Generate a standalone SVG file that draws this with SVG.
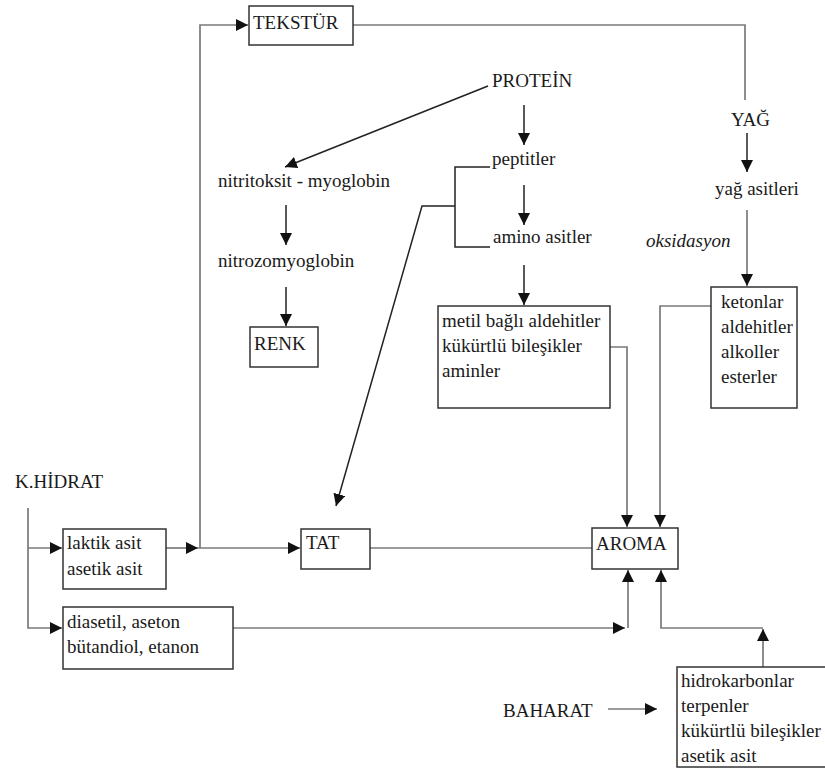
<svg xmlns="http://www.w3.org/2000/svg" width="825" height="772" viewBox="0 0 825 772">
<style>
text{font-family:"Liberation Serif","Times New Roman",serif;font-size:19px;fill:#1a1a1a}
.it{font-style:italic}
.box{fill:#fff;stroke:#333;stroke-width:1.5}
.g{fill:none;stroke:#7a7a7a;stroke-width:1.7}
.k{fill:none;stroke:#222;stroke-width:1.5}
</style>
<defs>
<marker id="ah" markerUnits="userSpaceOnUse" markerWidth="12" markerHeight="12" viewBox="0 0 10 10" refX="10" refY="5" orient="auto">
<path d="M0,0 L10,5 L0,10 z" fill="#111"/>
</marker>
</defs>
<rect width="825" height="772" fill="#fff"/>
<g id="connectors">
<path class="g" d="M353,25 H745 V100"/>
<path class="k" d="M747,133 V172" marker-end="url(#ah)"/>
<path class="g" d="M747,210 V286" marker-end="url(#ah)"/>
<path class="g" d="M711,306 H660 V527" marker-end="url(#ah)"/>
<path class="g" d="M610,347 H627 V527" marker-end="url(#ah)"/>
<path class="k" d="M524,105 V145" marker-end="url(#ah)"/>
<path class="k" d="M524,185 V225" marker-end="url(#ah)"/>
<path class="k" d="M524,265 V305" marker-end="url(#ah)"/>
<path class="k" d="M488,86 L285,167" marker-end="url(#ah)"/>
<path class="k" d="M286,205 V245" marker-end="url(#ah)"/>
<path class="k" d="M286,287 V326" marker-end="url(#ah)"/>
<path class="k" d="M490,167 H455 V247 H490"/>
<path class="k" d="M455,206 H422 L336,506" marker-end="url(#ah)"/>
<path class="g" d="M28,508 V628 H62" marker-end="url(#ah)"/>
<path class="g" d="M28,548 H62" marker-end="url(#ah)"/>
<path class="g" d="M166,548 H198" marker-end="url(#ah)"/>
<path class="g" d="M198,548 H300" marker-end="url(#ah)"/>
<path class="g" d="M200,548 V25 H248" marker-end="url(#ah)"/>
<path class="g" d="M370,548 H592"/>
<path class="g" d="M233,628 H625" marker-end="url(#ah)"/>
<path class="g" d="M628,628 V570" marker-end="url(#ah)"/>
<path class="g" d="M763,667 V629" marker-end="url(#ah)"/>
<path class="g" d="M763,628 H661 V570" marker-end="url(#ah)"/>
<path class="g" d="M608,709 H657" marker-end="url(#ah)"/>
</g>
<g id="tekstur"><rect class="box" x="249" y="6" width="104" height="39"/><text x="253" y="29">TEKSTÜR</text></g>
<g id="protein"><text x="492" y="87">PROTEİN</text></g>
<g id="yag"><text x="731" y="126">YAĞ</text></g>
<g id="yag-asitleri"><text x="715" y="195">yağ asitleri</text></g>
<g id="oksidasyon"><text class="it" x="646" y="247">oksidasyon</text></g>
<g id="peptitler"><text x="492" y="165">peptitler</text></g>
<g id="amino-asitler"><text x="493" y="243">amino asitler</text></g>
<g id="nitritoksit"><text x="218" y="187">nitritoksit - myoglobin</text></g>
<g id="nitrozomyoglobin"><text x="218" y="267">nitrozomyoglobin</text></g>
<g id="renk"><rect class="box" x="250" y="327" width="68" height="40"/><text x="254" y="350">RENK</text></g>
<g id="metil"><rect class="box" x="438" y="306" width="172" height="102"/>
<text x="442" y="327">metil bağlı aldehitler</text><text x="442" y="352">kükürtlü bileşikler</text><text x="442" y="377">aminler</text></g>
<g id="ketonlar"><rect class="box" x="711" y="287" width="86" height="121"/>
<text x="721" y="308">ketonlar</text><text x="721" y="333">aldehitler</text><text x="721" y="358">alkoller</text><text x="721" y="383">esterler</text></g>
<g id="khidrat"><text x="15" y="488">K.HİDRAT</text></g>
<g id="laktik"><rect class="box" x="63" y="529" width="103" height="60"/>
<text x="67" y="549">laktik asit</text><text x="67" y="575">asetik asit</text></g>
<g id="tat"><rect class="box" x="301" y="529" width="69" height="40"/><text x="306" y="549">TAT</text></g>
<g id="aroma"><rect class="box" x="592" y="528" width="86" height="41"/><text x="596" y="550">AROMA</text></g>
<g id="diasetil"><rect class="box" x="63" y="607" width="170" height="62"/>
<text x="67" y="628">diasetil, aseton</text><text x="67" y="653">bütandiol, etanon</text></g>
<g id="baharat"><text x="503" y="717">BAHARAT</text></g>
<g id="hidrokarbonlar"><rect class="box" x="677" y="667" width="160" height="100"/>
<text x="681" y="687">hidrokarbonlar</text><text x="681" y="712">terpenler</text><text x="681" y="737">kükürtlü bileşikler</text><text x="681" y="762">asetik asit</text></g>
</svg>
